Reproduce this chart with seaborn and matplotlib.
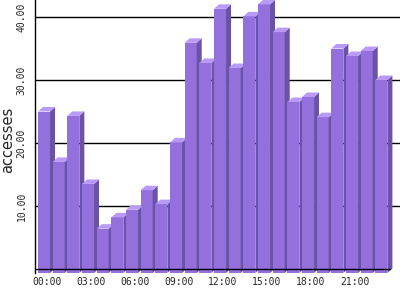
import matplotlib
matplotlib.use("Agg")
import matplotlib.pyplot as plt
import matplotlib.transforms as mtransforms
from matplotlib.patches import Polygon
import seaborn as sns
import pandas as pd

hours = [f"{h:02d}:00" for h in range(24)]
accesses = [25.0, 17.0, 24.3, 13.5, 6.4, 8.2, 9.4, 12.5, 10.3, 20.1, 35.9, 32.7,
            41.3, 31.9, 40.1, 42.0, 37.6, 26.5, 27.3, 24.1, 35.0, 33.8, 34.6, 30.0]
xtick_hours = ["00:00", "03:00", "06:00", "09:00", "12:00", "15:00", "18:00", "21:00"]
ytick_values = [10, 20, 30, 40]
ylabel = "accesses"

FRONT = "#9370DB"
SIDE = "#6A52A6"
TOP = "#BA9AF7"

sns.set_style("white")
plt.rcParams["font.family"] = ["DejaVu Sans Mono", "DejaVu Sans"]

fig = plt.figure(figsize=(4, 3), dpi=100)
ax = fig.add_axes([35 / 400, 27 / 300, 365 / 400, 273 / 300])

df = pd.DataFrame({"hour": hours, "accesses": accesses})
sns.barplot(data=df, x="hour", y="accesses", color=FRONT, saturation=1,
            width=0.82, edgecolor="none", linewidth=0, ax=ax)

px_per_x = 14.67
px_per_y = 6.3
ybot = -4 / px_per_y
dx = 5 / px_per_x
dy = 4.5 / px_per_y

for i, p in enumerate(ax.patches):
    xl = p.get_x()
    w = p.get_width()
    top = p.get_y() + p.get_height()
    p.set_y(ybot)
    p.set_height(top - ybot)
    z = 2 + i * 0.1
    p.set_zorder(z)
    xr = xl + w
    side = Polygon([(xr, ybot), (xr + dx, ybot + dy), (xr + dx, top + dy), (xr, top)],
                   closed=True, facecolor=SIDE, edgecolor="none", zorder=z + 0.05)
    cap = Polygon([(xl, top), (xl + dx, top + dy), (xr + dx, top + dy), (xr, top)],
                  closed=True, facecolor=TOP, edgecolor="none", zorder=z + 0.05)
    ax.add_patch(side)
    ax.add_patch(cap)

ax.set_xlim(-0.614, 24.27)
ax.set_ylim(ybot, 269 / px_per_y)

ax.set_yticks(ytick_values)
ax.set_yticklabels([f"{v:.2f}" for v in ytick_values])
ax.yaxis.grid(True, color="black", linewidth=1)
ax.set_axisbelow(True)
ax.tick_params(axis="y", length=0, pad=6, labelsize=7, labelrotation=90)
for lbl in ax.get_yticklabels():
    lbl.set_va("center")

ax.set_xticks([hours.index(h) for h in xtick_hours])
ax.set_xticklabels(xtick_hours)
ax.tick_params(axis="x", length=0, pad=3, labelsize=7)
off = mtransforms.ScaledTranslation(0.03, 0, fig.dpi_scale_trans)
for lbl in ax.get_xticklabels():
    lbl.set_transform(lbl.get_transform() + off)

for s in ["top", "right", "bottom"]:
    ax.spines[s].set_visible(False)
ax.spines["left"].set_color("black")
ax.spines["left"].set_linewidth(1)
ax.axhline(0, xmin=0, xmax=355 / 365, color="black", linewidth=1, zorder=10)

ax.set_xlabel("")
ax.set_ylabel("")
fig.text(0.5 / 400, (300 - 140) / 300, ylabel, rotation=90, ha="left", va="center",
         fontsize=10.5, family=["DejaVu Sans"])

fig.savefig("out.png", dpi=100)
